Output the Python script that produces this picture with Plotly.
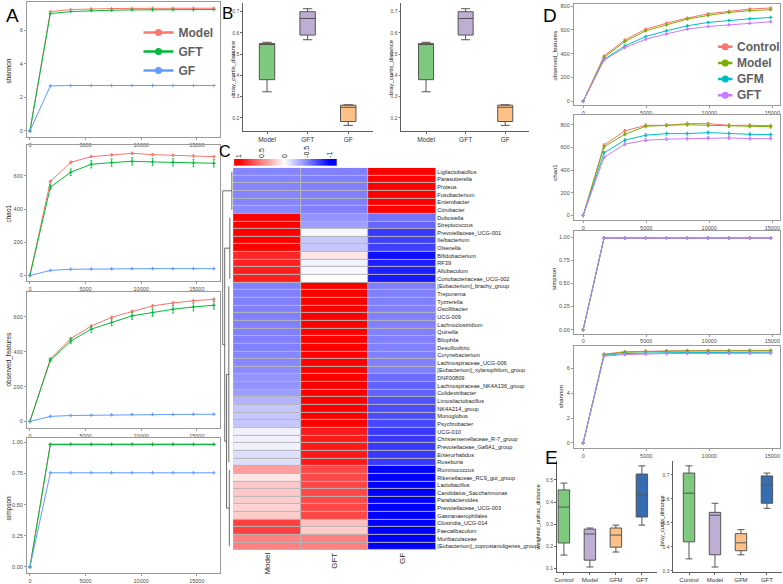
import plotly.graph_objects as go

W, H = 783, 584
FONT = "Liberation Sans, Arial, sans-serif"

# ---------------- Panel A : rarefaction curves (3 groups) ----------------
depth_A = [0, 1837, 3674, 5511, 7348, 9185, 11022, 12859, 14696, 16533]
groups_A = ["Model", "GFT", "GF"]
colors_A = ["#F8766D", "#00BA38", "#619CFF"]
depth_ticks = [0, 5000, 10000, 15000]

shannon_A_model = [0, 7.10, 7.22, 7.26, 7.28, 7.29, 7.30, 7.30, 7.30, 7.30]
shannon_A_gft = [0, 6.98, 7.10, 7.16, 7.18, 7.20, 7.21, 7.21, 7.21, 7.22]
shannon_A_gf = [0, 2.68, 2.70, 2.70, 2.70, 2.70, 2.70, 2.70, 2.70, 2.70]

chao1_A_model = [0, 566, 682, 716, 726, 736, 728, 724, 720, 716]
chao1_A_gft = [0, 532, 622, 670, 680, 688, 684, 682, 678, 676]
chao1_A_gf = [0, 30, 37, 39, 40, 41, 41, 41, 41, 41]
chao1_A_err_model = [0, 8, 7, 6, 6, 6, 6, 6, 6, 6]
chao1_A_err_gft = [0, 15, 20, 22, 22, 22, 22, 22, 22, 22]
chao1_A_err_gf = [0, 2, 2, 2, 2, 2, 2, 2, 2, 2]

obs_A_model = [0, 358, 476, 547, 598, 632, 663, 680, 693, 701]
obs_A_gft = [0, 352, 461, 530, 568, 606, 625, 644, 657, 667]
obs_A_gf = [0, 29, 34, 36, 38, 40, 40, 40, 41, 41]
obs_A_err_model = [0, 5, 6, 6, 6, 6, 6, 6, 6, 6]
obs_A_err_gft = [0, 10, 15, 18, 20, 20, 22, 22, 22, 22]
obs_A_err_gf = [0, 2, 2, 2, 2, 2, 2, 2, 2, 2]

simpson_A_model = [0, 0.985, 0.985, 0.985, 0.985, 0.985, 0.985, 0.985, 0.985, 0.985]
simpson_A_gft = [0, 0.982, 0.982, 0.982, 0.982, 0.982, 0.982, 0.982, 0.982, 0.982]
simpson_A_gf = [0, 0.755, 0.755, 0.756, 0.755, 0.755, 0.755, 0.755, 0.755, 0.755]

# ---------------- Panel B : beta diversity boxes ----------------
groups_B = ["Model", "GFT", "GF"]
colors_B = ["#7FC97F", "#BEAED4", "#FDC086"]
B_lower = [0.323, 0.568, 0.165]
B_q1 = [0.380, 0.590, 0.183]
B_median = [0.546, 0.668, 0.250]
B_q3 = [0.550, 0.700, 0.260]
B_upper = [0.556, 0.714, 0.262]

# ---------------- Panel C : correlation heatmap ----------------
genera_C = [
    "Ligilactobacillus", "Parasutterella", "Proteus", "Fusobacterium", "Enterobacter",
    "Citrobacter", "Dubosiella", "Streptococcus", "Prevotellaceae_UCG-001", "Ileibacterium",
    "Olsenella", "Bifidobacterium", "RF39", "Allobaculum", "Coriobacteriaceae_UCG-002",
    "[Eubacterium]_brachy_group", "Treponema", "Tyzzerella", "Oscillibacter", "UCG-009",
    "Lachnoclostridium", "Quinella", "Bilophila", "Desulfovibrio", "Corynebacterium",
    "Lachnospiraceae_UCG-006", "[Eubacterium]_xylanophilum_group", "DNF00809",
    "Lachnospiraceae_NK4A136_group", "Colidextribacter", "Limosilactobacillus",
    "NK4A214_group", "Monoglobus", "Psychrobacter", "UCG-010",
    "Christensenellaceae_R-7_group", "Prevotellaceae_Ga6A1_group", "Enterorhabdus",
    "Roseburia", "Ruminococcus", "Rikenellaceae_RC9_gut_group", "Lactobacillus",
    "Candidatus_Saccharimonas", "Parabacteroides", "Prevotellaceae_UCG-003",
    "Gastranaerophilales", "Clostridia_UCG-014", "Faecalibaculum", "Muribaculaceae",
    "[Eubacterium]_coprostanoligenes_group",
]
columns_C = ["Model", "GFT", "GF"]
corr_model = [
    -0.48, -0.48, -0.48, -0.48, -0.48, -0.46,
    1.0, 1.0, 1.0, 1.0, 1.0, 0.85, 0.88, 0.88, 0.88,
    -0.5, -0.5, -0.5, -0.5, -0.5, -0.5, -0.5, -0.5, -0.5, -0.48, -0.47, -0.45,
    -0.42, -0.42, -0.38, -0.30, -0.22, -0.22, -0.22,
    -0.06, -0.06, -0.06, -0.13, -0.13,
    0.38, 0.10, 0.22, 0.22, 0.20, 0.18, 0.20,
    0.75, 0.75, 0.50, 0.50,
]
corr_gft = [
    -0.5, -0.5, -0.5, -0.5, -0.5, -0.5,
    -0.42, -0.38, -0.03, -0.22, -0.22, 0.10, -0.05, -0.03, 0.0,
    1.0, 1.0, 1.0, 1.0, 1.0, 1.0, 1.0, 1.0, 1.0, 1.0,
    1.0, 1.0, 1.0, 1.0, 1.0, 1.0, 1.0, 1.0, 1.0,
    0.9, 0.9, 0.9, 0.9, 0.9,
    0.72, 0.72, 0.72, 0.72, 0.72, 0.72, 0.72,
    0.25, 0.20, 0.50, 0.50,
]
corr_gf = [
    1.0, 1.0, 1.0, 1.0, 1.0, 1.0,
    -0.55, -0.60, -0.78, -0.75, -0.75, -0.95, -0.88, -0.88, -0.90,
    -0.5, -0.5, -0.5, -0.5, -0.5, -0.5, -0.5, -0.5, -0.5, -0.5, -0.5, -0.5,
    -0.58, -0.62, -0.62, -0.68, -0.70, -0.70, -0.72,
    -0.78, -0.78, -0.78, -0.78, -0.78,
    -1.0, -1.0, -1.0, -1.0, -1.0, -1.0, -1.0, -1.0, -1.0, -1.0, -1.0,
]
colorbar_ticks = [1, 0.5, 0, -0.5, -1]
# dendrogram: leaf blocks (first row, last row, height) and merges (node a, node b, height)
dend_blocks = [(0, 5, 0.10), (6, 14, 0.30), (15, 38, 0.40), (39, 49, 0.35)]
dend_merges = [(2, 3, 0.62), (1, 4, 0.80), (0, 5, 1.0)]

# ---------------- Panel D : rarefaction curves (4 groups) ----------------
depth_D = [0, 1652, 3304, 4956, 6608, 8260, 9912, 11564, 13216, 14868]
groups_D = ["Control", "Model", "GFM", "GFT"]
colors_D = ["#F8766D", "#7CAE00", "#00BFC4", "#C77CFF"]

obs_D_control = [0, 380, 515, 606, 656, 699, 735, 755, 775, 783]
obs_D_model = [0, 369, 501, 592, 642, 690, 721, 746, 761, 769]
obs_D_gfm = [0, 352, 465, 544, 592, 634, 662, 679, 693, 704]
obs_D_gft = [0, 346, 451, 521, 566, 606, 628, 642, 656, 668]

chao1_D_control = [0, 619, 745, 794, 794, 809, 809, 794, 794, 791]
chao1_D_model = [0, 604, 715, 785, 794, 800, 794, 788, 785, 782]
chao1_D_gfm = [0, 552, 663, 707, 721, 721, 730, 721, 715, 712]
chao1_D_gft = [0, 511, 628, 663, 672, 677, 683, 683, 677, 677]

simpson_D_control = [0, 0.99, 0.99, 0.99, 0.99, 0.99, 0.99, 0.99, 0.99, 0.99]
simpson_D_model = [0, 0.989, 0.989, 0.989, 0.989, 0.989, 0.989, 0.989, 0.989, 0.989]
simpson_D_gfm = [0, 0.988, 0.988, 0.988, 0.988, 0.988, 0.988, 0.988, 0.988, 0.988]
simpson_D_gft = [0, 0.987, 0.987, 0.987, 0.987, 0.987, 0.987, 0.987, 0.987, 0.987]

shannon_D_control = [0, 7.15, 7.35, 7.40, 7.42, 7.44, 7.45, 7.45, 7.46, 7.46]
shannon_D_model = [0, 7.12, 7.30, 7.36, 7.38, 7.40, 7.41, 7.41, 7.42, 7.42]
shannon_D_gfm = [0, 7.05, 7.20, 7.25, 7.27, 7.28, 7.29, 7.30, 7.30, 7.30]
shannon_D_gft = [0, 7.00, 7.12, 7.18, 7.20, 7.21, 7.22, 7.22, 7.23, 7.23]

obs_D_err = [0, 6, 6, 5, 5, 5, 5, 5, 5, 5]
chao1_D_err = [0, 10, 12, 12, 12, 12, 12, 12, 12, 12]
shannon_D_err = [0, 0.08, 0.08, 0.08, 0.08, 0.08, 0.08, 0.08, 0.08, 0.08]

# ---------------- Panel E : distance boxes ----------------
groups_E = ["Control", "Model", "GFM", "GFT"]
colors_E = ["#7FC97F", "#BEAED4", "#FDC086", "#386CB0"]
E1_lower = [0.159, 0.105, 0.173, 0.295]
E1_q1 = [0.214, 0.136, 0.195, 0.332]
E1_median = [0.377, 0.255, 0.250, 0.432]
E1_q3 = [0.455, 0.277, 0.282, 0.527]
E1_upper = [0.486, 0.282, 0.295, 0.564]
E2_lower = [0.350, 0.316, 0.367, 0.561]
E2_q1 = [0.421, 0.367, 0.384, 0.582]
E2_median = [0.624, 0.532, 0.417, 0.658]
E2_q3 = [0.708, 0.544, 0.455, 0.696]
E2_upper = [0.738, 0.582, 0.472, 0.708]


# ---------------- helpers ----------------
def xd(a, b):
    return [a / W, b / W]


def yd(top, bottom):
    return [1 - bottom / H, 1 - top / H]


def axn(i):
    return ("x" if i == 1 else f"x{i}"), ("y" if i == 1 else f"y{i}")


def lkey(i):
    return ("xaxis" if i == 1 else f"xaxis{i}"), ("yaxis" if i == 1 else f"yaxis{i}")


TICKF = dict(size=5.5, color="#4d4d4d", family=FONT)
LEGF = dict(size=12, color="#5f5f5f", family=FONT, weight="bold")


def frame_axes(i, xdom, ydom, xr, yr, yt, yfmt=None):
    kx, ky = lkey(i)
    xa, ya = axn(i)
    common = dict(showline=True, mirror=True, linecolor="#9a9a9a", linewidth=1,
                  ticks="outside", ticklen=2, tickwidth=0.7, tickcolor="#9a9a9a",
                  tickfont=TICKF, showgrid=False, zeroline=False)
    lay = {
        kx: dict(domain=xdom, range=xr, anchor=ya, tickmode="array", tickvals=depth_ticks,
                 ticktext=[str(v) for v in depth_ticks], **common),
        ky: dict(domain=ydom, range=yr, anchor=xa, tickmode="array", tickvals=yt, **common),
    }
    if yfmt:
        lay[ky]["tickformat"] = yfmt
    return lay


def box_axes(i, xdom, ydom, xr, yr, cats, yt, xfont=6.5):
    kx, ky = lkey(i)
    xa, ya = axn(i)
    common = dict(showline=True, mirror=False, linecolor="#606060", linewidth=0.8,
                  ticks="outside", ticklen=2, tickwidth=0.7, tickcolor="#606060",
                  showgrid=False, zeroline=False)
    return {
        kx: dict(domain=xdom, range=xr, anchor=ya, type="category",
                 categoryorder="array", categoryarray=cats,
                 tickfont=dict(size=xfont, color="#333333", family=FONT), **common),
        ky: dict(domain=ydom, range=yr, anchor=xa, tickmode="array", tickvals=yt,
                 tickfont=dict(size=5, color="#4d4d4d", family=FONT), **common),
    }


fig = go.Figure()
layout = {}
annotations = []


def add_curves(i, depth, series, errs, colors):
    xa, ya = axn(i)
    for k, ys in enumerate(series):
        kw = {}
        if errs is not None:
            kw["error_y"] = dict(type="data", array=errs[k], visible=True,
                                 thickness=0.8, width=1, color=colors[k])
        fig.add_trace(go.Scatter(x=depth, y=ys, mode="lines+markers", xaxis=xa, yaxis=ya,
                                 line=dict(color=colors[k], width=1),
                                 marker=dict(color=colors[k], size=2.5, symbol="cross-thin",
                                             line=dict(color=colors[k], width=1)),
                                 showlegend=False, **kw))


# ---- Panel A ----
A_xr = [-270, 17100]
layout.update(frame_axes(1, xd(24, 218), yd(1, 137), A_xr, [-0.365, 7.67], [0, 2, 4, 6]))
layout.update(frame_axes(2, xd(24, 218), yd(145, 282), A_xr, [-34, 786], [0, 200, 400, 600]))
layout.update(frame_axes(3, xd(24, 218), yd(293, 430), A_xr, [-38, 743], [0, 200, 400, 600]))
layout.update(frame_axes(4, xd(24, 218), yd(440, 576), A_xr, [-0.049, 1.034],
                         [0, 0.25, 0.5, 0.75, 1.0], ".2f"))
add_curves(1, depth_A, [shannon_A_model, shannon_A_gft, shannon_A_gf], None, colors_A)
add_curves(2, depth_A, [chao1_A_model, chao1_A_gft, chao1_A_gf],
           [chao1_A_err_model, chao1_A_err_gft, chao1_A_err_gf], colors_A)
add_curves(3, depth_A, [obs_A_model, obs_A_gft, obs_A_gf],
           [obs_A_err_model, obs_A_err_gft, obs_A_err_gf], colors_A)
add_curves(4, depth_A, [simpson_A_model, simpson_A_gft, simpson_A_gf], None, colors_A)
for k, g in enumerate(groups_A):
    fig.add_trace(go.Scatter(x=[None], y=[None], mode="lines+markers", name=g, xaxis="x", yaxis="y",
                             line=dict(color=colors_A[k], width=2.5),
                             marker=dict(color=colors_A[k], size=7), legend="legend"))

# ---- Panel B ----
for i, (x0, x1, xr) in zip([5, 6], [(241, 371, [-0.59, 2.6]), (400, 528, [-0.62, 2.6])]):
    layout.update(box_axes(i, xd(x0, x1), yd(2, 131), xr, [0.138, 0.741], groups_B,
                           [0.2, 0.3, 0.4, 0.5, 0.6, 0.7]))
    xa, ya = axn(i)
    for k, g in enumerate(groups_B):
        fig.add_trace(go.Box(x=[g], q1=[B_q1[k]], median=[B_median[k]], q3=[B_q3[k]],
                             lowerfence=[B_lower[k]], upperfence=[B_upper[k]],
                             fillcolor=colors_B[k], line=dict(color="#555555", width=1),
                             width=0.38, whiskerwidth=0.6, boxpoints=False,
                             xaxis=xa, yaxis=ya, showlegend=False))

# ---- Panel C ----
zC = [[m, g, f] for m, g, f in zip(corr_model, corr_gft, corr_gf)]
cscale = [[0, "#0000FF"], [0.5, "#FFFFFF"], [1, "#FF0000"]]
fig.add_trace(go.Heatmap(z=zC, x=columns_C, y=genera_C, colorscale=cscale, zmin=-1, zmax=1,
                         xgap=1, ygap=1, showscale=False, xaxis="x7", yaxis="y7"))
layout["xaxis7"] = dict(domain=xd(231, 435), anchor="y7", type="category", range=[-0.5, 2.5],
                        showline=False, ticks="", showgrid=False, zeroline=False, tickangle=-90,
                        tickfont=dict(size=8, color="#222222", family=FONT))
layout["yaxis7"] = dict(domain=yd(168, 553), anchor="x7", type="category", side="right",
                        range=[49.5, -0.5], showline=False, ticks="", showgrid=False,
                        zeroline=False, tickmode="array", tickvals=genera_C,
                        tickfont=dict(size=5.6, color="#222222", family=FONT))
layout["shapes"] = [dict(type="rect", xref="x7", yref="y7", x0=-0.5, x1=2.5, y0=-0.5, y1=49.5,
                         fillcolor="#b5b5b5", line=dict(width=0), layer="below")]
# colour key (gradient strip)
cbar_levels = [-1.15 + j * 0.0226 for j in range(101)]
fig.add_trace(go.Heatmap(z=[cbar_levels], x=cbar_levels, y=[0], colorscale=cscale, zmin=-1, zmax=1,
                         showscale=False, xaxis="x8", yaxis="y8"))
layout["xaxis8"] = dict(domain=xd(232, 335), anchor="y8", range=[1.11, -1.15], side="top",
                        tickmode="array", tickvals=colorbar_ticks,
                        ticktext=[str(v) for v in colorbar_ticks],
                        tickangle=-90, ticks="", showline=False, showgrid=False, zeroline=False,
                        tickfont=dict(size=7, color="#222222", family=FONT))
layout["yaxis8"] = dict(domain=yd(159, 166), anchor="x8", visible=False, range=[-0.5, 0.5])
# dendrogram
nodes = []
dx, dy = [], []
for r0, r1, h in dend_blocks:
    dx += [h, h, None]
    dy += [r0, r1, None]
    nodes.append(((r0 + r1) / 2, h))
for a, b, h in dend_merges:
    (ca, ha), (cb, hb) = nodes[a], nodes[b]
    dx += [ha, h, h, hb, None]
    dy += [ca, ca, cb, cb, None]
    nodes.append(((ca + cb) / 2, h))
fig.add_trace(go.Scatter(x=dx, y=dy, mode="lines", line=dict(color="#444444", width=0.8),
                         xaxis="x9", yaxis="y9", showlegend=False, hoverinfo="skip"))
layout["xaxis9"] = dict(domain=xd(220, 231), anchor="y9", range=[1.05, -0.02], visible=False)
layout["yaxis9"] = dict(domain=yd(168, 553), anchor="x9", range=[49.5, -0.5], visible=False)

# ---- Panel D ----
D_xr = [-743, 15611]
layout.update(frame_axes(10, xd(573, 780), yd(3, 105), D_xr, [-33, 817], [0, 200, 400, 600, 800]))
layout.update(frame_axes(11, xd(573, 780), yd(115, 221), D_xr, [-44, 883], [0, 200, 400, 600, 800]))
layout.update(frame_axes(12, xd(573, 780), yd(232, 335), D_xr, [-0.043, 1.061],
                         [0, 0.25, 0.5, 0.75, 1.0], ".2f"))
layout.update(frame_axes(13, xd(573, 780), yd(347, 450), D_xr, [-0.4, 7.84], [0, 2, 4, 6]))
add_curves(10, depth_D, [obs_D_control, obs_D_model, obs_D_gfm, obs_D_gft], [obs_D_err] * 4, colors_D)
add_curves(11, depth_D, [chao1_D_control, chao1_D_model, chao1_D_gfm, chao1_D_gft],
           [chao1_D_err] * 4, colors_D)
add_curves(12, depth_D, [simpson_D_control, simpson_D_model, simpson_D_gfm, simpson_D_gft], None, colors_D)
add_curves(13, depth_D, [shannon_D_control, shannon_D_model, shannon_D_gfm, shannon_D_gft],
           [shannon_D_err] * 4, colors_D)

# D legend: keys drawn in a small hidden axis indexed by group order
layout["xaxis16"] = dict(domain=xd(717, 733), anchor="y16", range=[0, 1], visible=False)
layout["yaxis16"] = dict(domain=yd(38, 103), anchor="x16", range=[3.5, -0.5], visible=False)
for k, g in enumerate(groups_D):
    fig.add_trace(go.Scatter(x=[0.05, 0.95], y=[k, k], mode="lines", xaxis="x16", yaxis="y16",
                             line=dict(color=colors_D[k], width=2.5), showlegend=False,
                             hoverinfo="skip"))
    fig.add_trace(go.Scatter(x=[0.5], y=[k], mode="markers", xaxis="x16", yaxis="y16",
                             marker=dict(color=colors_D[k], size=7), showlegend=False,
                             hoverinfo="skip"))
    annotations.append(dict(text=g, x=735 / W, xref="paper", y=k, yref="y16", showarrow=False,
                            xanchor="left", yanchor="middle", font=LEGF))

# ---- Panel E ----
E_sets = [
    (14, (556, 657), [-0.27, 3.6], [0.082, 0.587], [0.1, 0.2, 0.3, 0.4, 0.5],
     (E1_lower, E1_q1, E1_median, E1_q3, E1_upper)),
    (15, (673, 782), [-0.6, 3.58], [0.295, 0.759], [0.3, 0.4, 0.5, 0.6, 0.7],
     (E2_lower, E2_q1, E2_median, E2_q3, E2_upper)),
]
for i, (x0, x1), xr, yr, yt, (lo, q1, md, q3, up) in E_sets:
    layout.update(box_axes(i, xd(x0, x1), yd(463, 575), xr, yr, groups_E, yt, xfont=6))
    xa, ya = axn(i)
    for k, g in enumerate(groups_E):
        fig.add_trace(go.Box(x=[g], q1=[q1[k]], median=[md[k]], q3=[q3[k]],
                             lowerfence=[lo[k]], upperfence=[up[k]],
                             fillcolor=colors_E[k], line=dict(color="#555555", width=1),
                             width=0.44, whiskerwidth=0.6, boxpoints=False,
                             xaxis=xa, yaxis=ya, showlegend=False))


# ---- text annotations ----
def title_ann(text, x, y, size=6.5, angle=-90):
    annotations.append(dict(text=text, x=x / W, y=1 - y / H, xref="paper", yref="paper",
                            showarrow=False, textangle=angle, xanchor="center", yanchor="middle",
                            font=dict(size=size, color="#1a1a1a", family=FONT)))


title_ann("shannon", 6, 70)
title_ann("chao1", 6, 214)
title_ann("observed_features", 6, 360)
title_ann("simpson", 6, 510)
title_ann("bray_curtis_distance", 230, 67, 6)
title_ann("bray_curtis_distance", 389, 67, 6)
title_ann("observed_features", 554, 55, 6)
title_ann("chao1", 554, 172, 6)
title_ann("simpson", 553, 280, 6)
title_ann("shannon", 560, 398, 6)
title_ann("weighted_unifrac_distance", 537, 520, 5.5)
title_ann("bray_curtis_distance", 662, 523, 5.5)

for letter, x, y, s in [("A", 1, 2, 19), ("B", 218, 1, 17), ("C", 215, 141, 16),
                        ("D", 540, 2, 19), ("E", 542, 447, 19)]:
    annotations.append(dict(text=letter, x=x / W, y=1 - y / H, xref="paper", yref="paper",
                            showarrow=False, xanchor="left", yanchor="top",
                            font=dict(size=s, color="#000000", family=FONT)))

layout.update(dict(
    width=W, height=H, margin=dict(l=0, r=0, t=0, b=0),
    paper_bgcolor="white", plot_bgcolor="white", boxmode="overlay",
    font=dict(family=FONT),
    annotations=annotations,
    legend=dict(x=136 / W, y=1 - 17 / H, xanchor="left", yanchor="top", bgcolor="rgba(0,0,0,0)",
                font=LEGF, itemwidth=30, tracegroupgap=0),
))
fig.update_layout(**layout)
fig.write_html("out.html")
